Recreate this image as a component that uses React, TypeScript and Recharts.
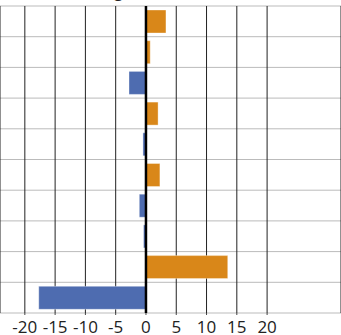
import React from "react";
import { BarChart, Bar, XAxis, YAxis, CartesianGrid, ReferenceLine, Cell } from "recharts";

const categories = ["c1", "c2", "c3", "c4", "c5", "c6", "c7", "c8", "c9", "c10"];
const values = [3.3, 0.7, -2.8, 2.0, -0.5, 2.3, -1.1, -0.4, 13.5, -17.7];
const xTicks = [-20, -15, -10, -5, 0, 5, 10, 15, 20];

const POS = "#D98719";
const NEG = "#4E6CB0";

const data = categories.map((c, i) => ({ name: c, value: values[i] }));

export default function App() {
  return (
    <div style={{ position: "absolute", left: 0, top: 0, width: 341, height: 335, overflow: "hidden", background: "#fff" }}>
      <div
        style={{
          position: "absolute",
          left: 114,
          top: -17,
          fontFamily: "'Open Sans', sans-serif",
          fontWeight: 700,
          fontSize: 16,
          lineHeight: "16px",
          color: "#222",
        }}
      >
        g
      </div>
      <BarChart
        width={341}
        height={335}
        data={data}
        layout="vertical"
        margin={{ top: 6, right: 0, left: 0, bottom: 0 }}
        barSize={23}
      >
        <CartesianGrid
          stroke="#bbb"
          vertical={false}
          horizontalCoordinatesGenerator={({ offset }: any) => {
            const n = categories.length;
            const arr: number[] = [];
            for (let i = 0; i <= n; i++) arr.push(offset.top + (offset.height * i) / n);
            return arr;
          }}
        />
        <CartesianGrid stroke="#222" horizontal={false} />
        <XAxis
          type="number"
          domain={[-24.1, 32.2]}
          allowDataOverflow
          ticks={xTicks}
          height={22}
          axisLine={false}
          tickLine={{ stroke: "#444" }}
          tickSize={2}
          tickMargin={6}
          interval={0}
          tick={{ fill: "#222", fontSize: 17, fontFamily: "'Open Sans', sans-serif" }}
        />
        <YAxis type="category" dataKey="name" hide width={0} />
        <Bar dataKey="value" isAnimationActive={false} stroke="#fff" strokeOpacity={0.35} strokeWidth={1}>
          {data.map((d, i) => (
            <Cell key={i} fill={d.value >= 0 ? POS : NEG} />
          ))}
        </Bar>
        <ReferenceLine x={0} stroke="#000" strokeWidth={2.5} />
      </BarChart>
    </div>
  );
}
